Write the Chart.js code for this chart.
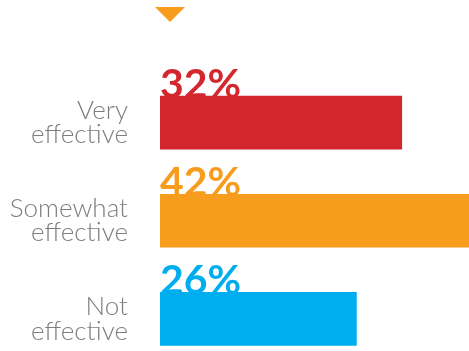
<!DOCTYPE html>
<html>
<head>
<meta charset="utf-8">
<script src="https://cdn.jsdelivr.net/npm/chart.js@4"></script>
<style>
  html, body { margin: 0; padding: 0; background: #fff; overflow: hidden; }
  #chart { display: block; }
</style>
</head>
<body>
<canvas id="chart" width="469" height="368"></canvas>
<script>
// categories and shares (percent)
const categories = [['Very', 'effective'], ['Somewhat', 'effective'], ['Not', 'effective']];
const shares = [32, 42, 26];
const barColors = ['#d3262d', '#f89c1d', '#00aeef'];

// percentage labels sit on top of each bar; the bar slightly overlaps the text
const valueLabels = {
  id: 'valueLabels',
  beforeDatasetsDraw(chart) {
    const { ctx, chartArea } = chart;
    const meta = chart.getDatasetMeta(0);
    ctx.save();
    // small orange marker above the chart
    ctx.fillStyle = '#f89c1d';
    ctx.beginPath();
    ctx.moveTo(chartArea.left - 5, 7);
    ctx.lineTo(chartArea.left + 25, 7);
    ctx.lineTo(chartArea.left + 10, 22);
    ctx.closePath();
    ctx.fill();

    ctx.font = 'bold 41px Lato, "Open Sans", sans-serif';
    ctx.textAlign = 'left';
    ctx.textBaseline = 'alphabetic';
    meta.data.forEach((bar, i) => {
      ctx.fillStyle = barColors[i];
      ctx.fillText(shares[i] + '%', bar.base, bar.y - bar.height / 2 + 2);
    });
    ctx.restore();
  }
};

new Chart(document.getElementById('chart'), {
  type: 'bar',
  data: {
    labels: categories,
    datasets: [{
      data: shares,
      backgroundColor: barColors,
      barThickness: 53,
      borderWidth: 0,
    }],
  },
  options: {
    indexAxis: 'y',
    responsive: false,
    animation: false,
    layout: { padding: { top: 73.5, right: 0, bottom: 0, left: 0 } },
    plugins: { legend: { display: false }, tooltip: { enabled: false } },
    scales: {
      x: { display: false, min: 0, max: 40.9 },
      y: {
        grid: { display: false, drawTicks: false },
        border: { display: false },
        afterFit: (scale) => {
          scale.width = 160;
          // the tick padding would otherwise be added above and below the bars
          scale.paddingTop = 0;
          scale.paddingBottom = 0;
        },
        ticks: {
          padding: 32,
          color: '#7c7d80',
          font: { family: 'Lato, "Open Sans", sans-serif', size: 26, weight: 300, lineHeight: 0.95 },
        },
      },
    },
  },
  plugins: [valueLabels],
});
</script>
</body>
</html>
